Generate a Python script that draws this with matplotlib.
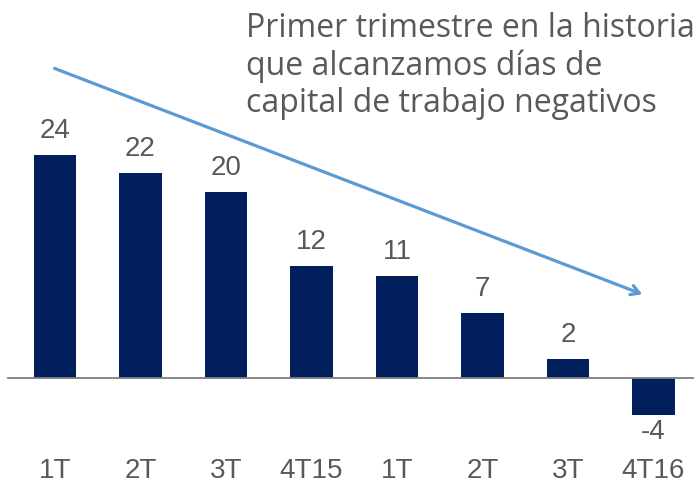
import matplotlib
matplotlib.use("Agg")
import matplotlib.pyplot as plt

categories = ["1T", "2T", "3T", "4T15", "1T", "2T", "3T", "4T16"]
values = [24, 22, 20, 12, 11, 7, 2, -4]
title_lines = ["Primer trimestre en la historia",
               "que alcanzamos días de",
               "capital de trabajo negativos"]

fig = plt.figure(figsize=(6.94, 4.84), dpi=100)
ax = fig.add_axes([0, 0, 1, 1])
ax.set_xlim(-0.643, 7.474)
ax.set_ylim(-11.4, 40.65)
ax.axis("off")

bar_color = "#001f5c"
x = list(range(len(values)))
ax.bar(x, values, width=0.5, color=bar_color, zorder=2)
ax.axhline(0, xmin=0.012, xmax=1, color="#7f7f7f", lw=1.3, zorder=3)

text_color = "#595959"
lab_font = "Liberation Sans"
for xi, v in zip(x, values):
    if v >= 0:
        ax.text(xi, v + 2.6, str(v), ha="center", va="center", fontsize=20,
                family=lab_font, color=text_color)
    else:
        ax.text(xi, v - 1.85, str(v), ha="center", va="center", fontsize=20,
                family=lab_font, color=text_color)
for xi, c in zip(x, categories):
    ax.text(xi, -10.0, c, ha="center", va="center", fontsize=20,
            family=lab_font, color=text_color)

ax.annotate("", xy=(6.90, 8.9), xytext=(-0.035, 33.4),
            arrowprops=dict(arrowstyle="->,head_length=0.6,head_width=0.35",
                        color="#5b9bd5", lw=2.3))

baselines = [37, 75, 112]
for line, by in zip(title_lines, baselines):
    fig.text(246 / 694, 1 - by / 484, line, ha="left", va="baseline", fontsize=23,
             family="Open Sans", color=text_color)

fig.savefig("out.png", dpi=100)
